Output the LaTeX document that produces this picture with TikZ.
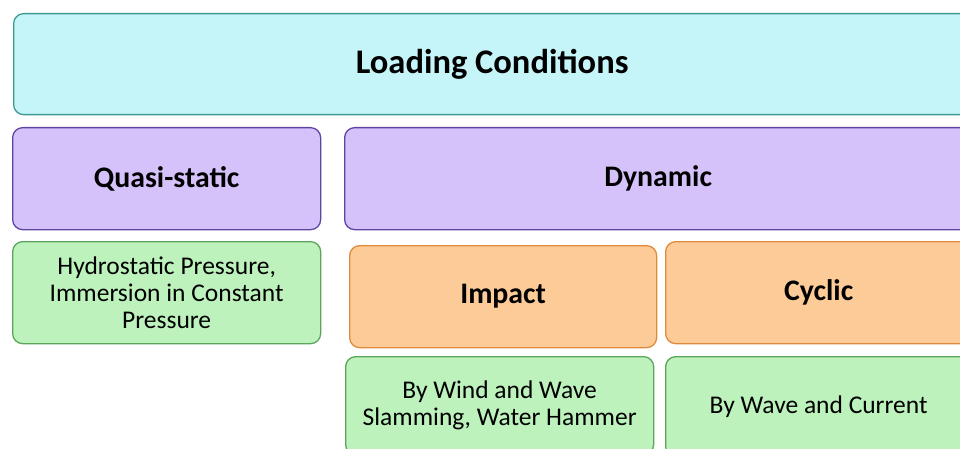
\documentclass[tikz,border=0pt]{standalone}
\usepackage{fontspec}
\setmainfont{Carlito}
\definecolor{cyanfill}{HTML}{C5F5F9}
\definecolor{cyanline}{HTML}{3E9A94}
\definecolor{purpfill}{HTML}{D5C2FB}
\definecolor{purpline}{HTML}{5E45A0}
\definecolor{orfill}{HTML}{FDCB98}
\definecolor{orline}{HTML}{E08A3C}
\definecolor{grfill}{HTML}{BDF2BD}
\definecolor{grline}{HTML}{5BA55B}
\tikzset{
  box/.style={draw, line width=1.3pt, rounded corners=10pt, anchor=north west, inner sep=0pt, align=center},
  topbox/.style={box, fill=cyanfill, draw=cyanline, font=\fontsize{34.5}{38}\selectfont\bfseries},
  purpbox/.style={box, fill=purpfill, draw=purpline, font=\fontsize{29.8}{34}\selectfont\bfseries},
  orbox/.style={box, fill=orfill, draw=orline, font=\fontsize{29.8}{34}\selectfont\bfseries},
  grbox/.style={box, fill=grfill, draw=grline, font=\fontsize{25.5}{27}\selectfont},
}
\begin{document}
\begin{tikzpicture}[x=1pt,y=-1pt]
\useasboundingbox (0,0) rectangle (960,449);
\clip (0,0) rectangle (960,449);
\node[topbox, minimum width=957pt, minimum height=101pt] (load) at (13,13) {Loading Conditions};
\node[purpbox, minimum width=308pt, minimum height=102pt] (quasi) at (12,127) {Quasi-static};
\node[purpbox, minimum width=627pt, minimum height=102pt] (dyn) at (344,127) {Dynamic};
\node[grbox, minimum width=308pt, minimum height=102pt] (hydro) at (12,241) {Hydrostatic Pressure,\\Immersion in Constant\\Pressure};
\node[orbox, minimum width=307pt, minimum height=102pt] (impact) at (349,245) {Impact};
\node[orbox, minimum width=306pt, minimum height=102pt] (cyclic) at (665,241) {Cyclic};
\node[grbox, minimum width=308pt, minimum height=98pt] (wind) at (345,356) {By Wind and Wave\\Slamming, Water Hammer};
\node[grbox, minimum width=306pt, minimum height=100pt] (wave) at (665,356) {By Wave and Current};
\end{tikzpicture}
\end{document}
